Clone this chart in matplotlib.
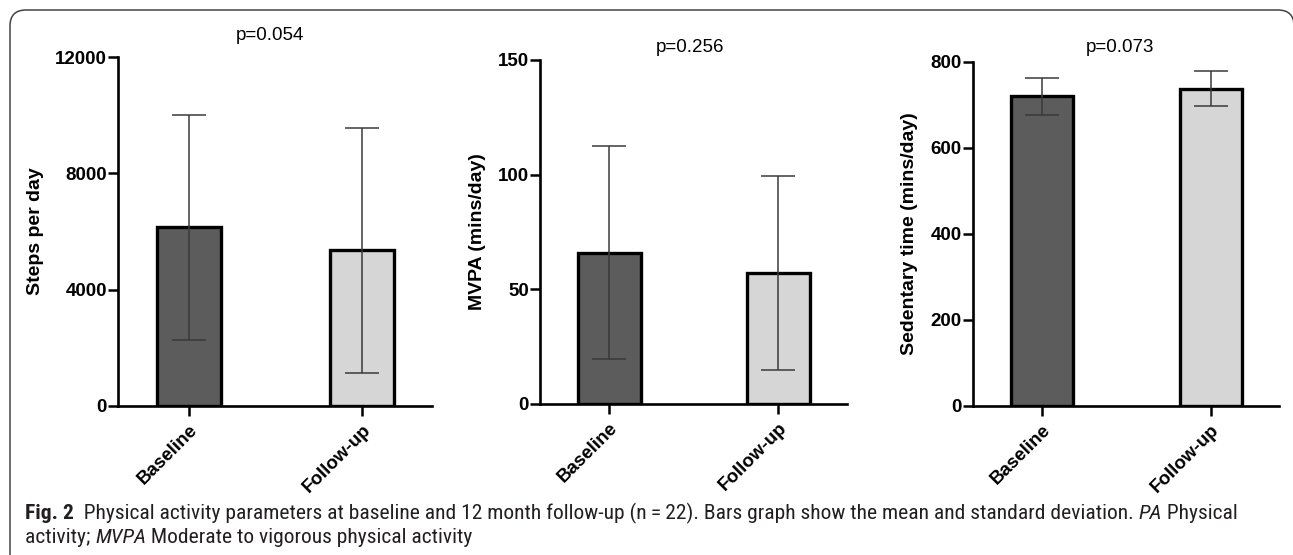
import matplotlib
matplotlib.use("Agg")
import matplotlib.pyplot as plt
from matplotlib.patches import FancyBboxPatch
from matplotlib.transforms import IdentityTransform

groups = ["Baseline", "Follow-up"]

steps_mean = [6150, 5350]
steps_sd = [3870, 4210]
mvpa_mean = [66, 57]
mvpa_sd = [46.4, 42.3]
sed_mean = [720, 738]
sed_sd = [43, 40]

p_values = ["p=0.054", "p=0.256", "p=0.073"]
ylabels = ["Steps per day", "MVPA (mins/day)", "Sedentary time (mins/day)"]
yticks = [[0, 4000, 8000, 12000], [0, 50, 100, 150], [0, 200, 400, 600, 800]]

W, H = 1293, 555
fig = plt.figure(figsize=(W / 100, H / 100), dpi=100)
fig.patch.set_facecolor("white")

# outer rounded frame (pixels)
frame = FancyBboxPatch((10, -60), 1284, H - 10 + 60, boxstyle="round,pad=0,rounding_size=16",
                       transform=IdentityTransform(), fill=False, edgecolor="#444444", linewidth=1.1)
fig.patches.append(frame)

# axes boxes in pixels: left, right, top, bottom
boxes = [(118, 432, 57, 406), (540, 847, 60, 404), (973, 1279, 62, 406)]
ylabel_x = [35, 477, 910]
ptext = [(270, 35), (690, 47), (1120, 47)]
means = [steps_mean, mvpa_mean, sed_mean]
sds = [steps_sd, mvpa_sd, sed_sd]
colors = ["#5c5c5c", "#d6d6d6"]
tfont = "Liberation Sans"

for i in range(3):
    l, r, t, b = boxes[i]
    ax = fig.add_axes([l / W, 1 - b / H, (r - l) / W, (b - t) / H])
    x = [0, 1]
    ax.bar(x, means[i], width=0.37, color=colors, edgecolor="black", linewidth=2.4, zorder=2)
    ax.errorbar(x, means[i], yerr=sds[i], fmt="none", ecolor="#3a3a3a", elinewidth=1.1,
                capsize=12, capthick=1.1, zorder=3)
    ax.set_xlim(-0.41, 1.405)
    ax.set_ylim(0, yticks[i][-1])
    ax.set_yticks(yticks[i])
    ax.set_xticks(x)
    ax.set_xticklabels(groups, rotation=45, ha="right", va="top", rotation_mode="anchor",
                       fontsize=13.5, fontweight="bold", family=tfont)
    for lab in ax.get_yticklabels():
        lab.set_fontsize(13.5)
        lab.set_fontweight("bold")
        lab.set_family(tfont)
    ax.tick_params(axis="both", width=1.8, length=7, color="black", pad=1)
    ax.tick_params(axis="x", pad=4)
    for s in ["top", "right"]:
        ax.spines[s].set_visible(False)
    for s in ["left", "bottom"]:
        ax.spines[s].set_linewidth(1.9)
    ax.set_facecolor("none")
    fig.text(ylabel_x[i] / W, 1 - ((t + b) / 2) / H, ylabels[i], rotation=90, ha="center", va="center",
             fontsize=14, fontweight="bold", family=tfont)
    fig.text(ptext[i][0] / W, 1 - ptext[i][1] / H, p_values[i], ha="center", va="center",
             fontsize=13.5, family=tfont)

# caption with mixed styles
cfont = "Roboto Condensed"
renderer = fig.canvas.get_renderer()

line1 = [("Fig. 2", "bold", "normal"),
         ("  Physical activity parameters at baseline and 12 month follow-up (n\u2009=\u200922). "
          "Bars graph show the mean and standard deviation. ", "normal", "normal"),
         ("PA", "normal", "italic"),
         (" Physical", "normal", "normal")]
line2 = [("activity; ", "normal", "normal"),
         ("MVPA", "normal", "italic"),
         (" Moderate to vigorous physical activity", "normal", "normal")]


def run(pieces, x0, y0, size):
    xpos = x0
    drawn = []
    for txt, w, st in pieces:
        tx = fig.text(xpos / W, 1 - y0 / H, txt, fontsize=size, fontweight=w, fontstyle=st,
                      family=cfont, color="#231f20", ha="left", va="baseline")
        bb = tx.get_window_extent(renderer)
        xpos += bb.width
        drawn.append(tx)
    return xpos, drawn


# fit first caption line to its width in the reference (25 -> 1235 px)
end, drawn = run(line1, 25, 519, 12)
for d in drawn:
    d.remove()
csize = 12 * (1235 - 25) / (end - 25)
run(line1, 25, 519, csize)
run(line2, 25, 543, csize)

fig.savefig("out.png", dpi=100)
